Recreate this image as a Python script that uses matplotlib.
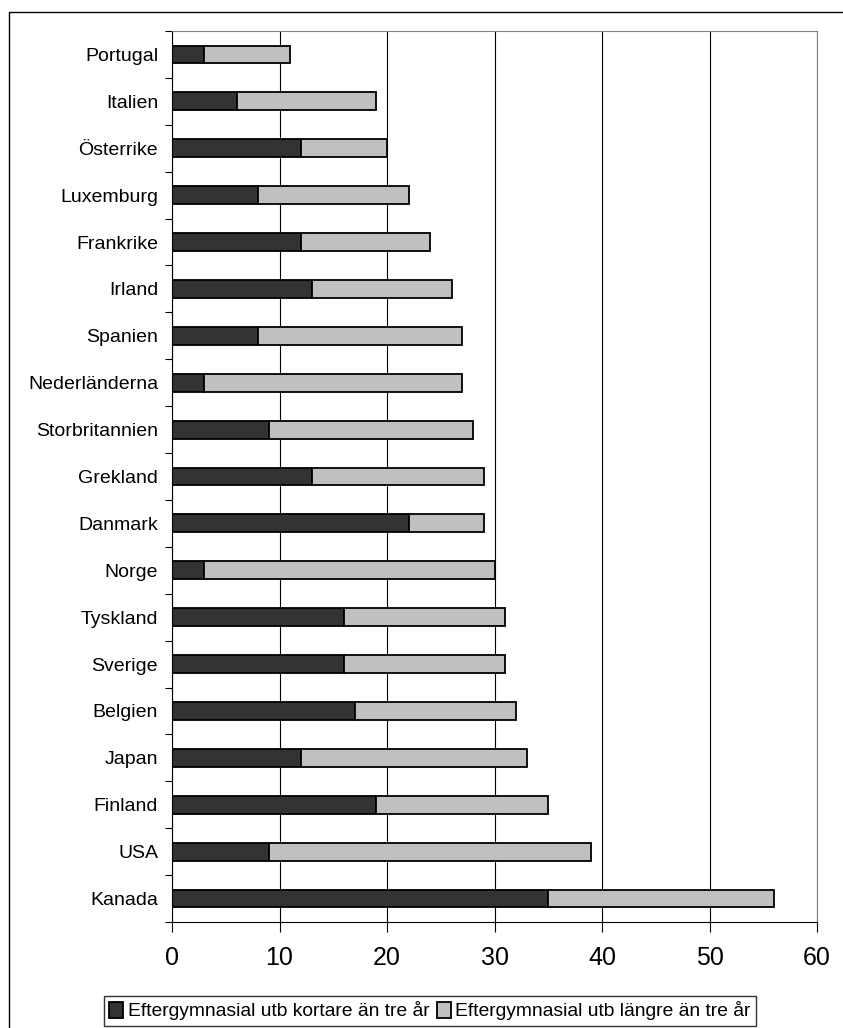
import matplotlib.pyplot as plt
from matplotlib.patches import Rectangle

countries = ["Portugal", "Italien", "Österrike", "Luxemburg", "Frankrike", "Irland",
             "Spanien", "Nederländerna", "Storbritannien", "Grekland", "Danmark",
             "Norge", "Tyskland", "Sverige", "Belgien", "Japan", "Finland", "USA", "Kanada"]
short = [3, 6, 12, 8, 12, 13, 8, 3, 9, 13, 22, 3, 16, 16, 17, 12, 19, 9, 35]
total = [11, 19, 20, 22, 24, 26, 27, 27, 28, 29, 29, 30, 31, 31, 32, 33, 35, 39, 56]
long_ = [t - s for t, s in zip(total, short)]

plt.rcParams["font.family"] = ["Liberation Sans", "DejaVu Sans"]

fig = plt.figure(figsize=(8.43, 10.28), dpi=100)
ax = fig.add_axes([172 / 843, 1 - 922 / 1028, 645 / 843, 891 / 1028])
# outer chart frame (right and bottom edges cut off in the original)
fig.patches.append(Rectangle((9 / 843, -0.05), 1.1, 1 - 12 / 1028 + 0.05,
                             transform=fig.transFigure, fill=False, lw=1, ec="black"))

n = len(countries)
y = list(range(n))[::-1]
h = 0.38
ax.barh(y, short, height=h, color="#333333", edgecolor="black", lw=1.3,
        label="Eftergymnasial utb kortare än tre år")
ax.barh(y, long_, left=short, height=h, color="#c0c0c0", edgecolor="black", lw=1.3,
        label="Eftergymnasial utb längre än tre år")

ax.set_xlim(0, 60)
ax.set_ylim(-0.5, n - 0.5)
ax.set_xticks(range(0, 61, 10))
ax.set_yticks([i - 0.5 for i in range(n + 1)], minor=False)
ax.set_yticklabels([])
ax.set_yticks(y, minor=True)
ax.set_yticklabels(countries, minor=True, fontsize=14)
ax.tick_params(axis="x", labelsize=18, direction="out", length=7, pad=10)
ax.tick_params(axis="y", which="major", direction="out", length=5)
ax.tick_params(axis="y", which="minor", length=0, pad=10)
ax.xaxis.grid(True, color="black", lw=0.8)
ax.set_axisbelow(True)
for s in ["top", "right"]:
    ax.spines[s].set_color("#808080")

fig.legend(loc="center", bbox_to_anchor=(430 / 843, 1 - 1011 / 1028), ncol=2, fontsize=13.9,
           frameon=True, fancybox=False, edgecolor="black", handlelength=0.7,
           handleheight=0.9, handletextpad=0.25, columnspacing=0.4, borderpad=0.3)
fig.savefig("out.png", dpi=100)
